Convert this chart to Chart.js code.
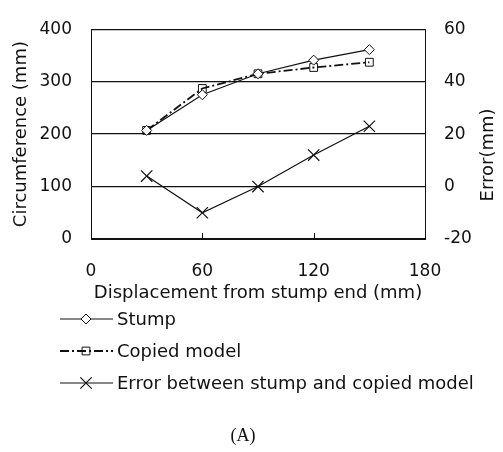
<!DOCTYPE html>
<html>
<head>
<meta charset="utf-8">
<script src="https://cdn.jsdelivr.net/npm/chart.js@4/dist/chart.umd.min.js"></script>
<style>
  html, body { margin: 0; padding: 0; background: #fff; }
  #wrap { position: relative; width: 503px; height: 452px; }
</style>
</head>
<body>
<div id="wrap"><canvas id="chart" width="503" height="452"></canvas></div>
<script>
// --- values ---
const displacement = [30, 60, 90, 120, 150];          // mm from stump end
const stump = [207, 275, 315, 341, 361];              // circumference (mm)
const copiedModel = [207, 287, 315, 327, 337];        // circumference (mm)
const errorValues = [4, -10, 0, 12, 23];              // error (mm), right axis
const xTicks = [0, 60, 120, 180];

const FONT = 'DejaVu Sans';
const INK = '#111';

const toPoints = ys => displacement.map((x, i) => ({ x: x, y: ys[i] }));

// legend drawn as line - marker - line, like the original
const legendPlugin = {
  id: 'lineLegend',
  afterDraw(chart) {
    const ctx = chart.ctx;
    const rows = [319, 351, 383];
    ctx.save();
    chart.data.datasets.forEach((ds, i) => {
      const y = rows[i];
      ctx.strokeStyle = ds.borderColor;
      ctx.lineWidth = ds.borderWidth;
      ctx.setLineDash(ds.borderDash || []);
      ctx.beginPath();
      ctx.moveTo(60, y);
      ctx.lineTo(113, y);
      ctx.stroke();
      ctx.setLineDash([]);
      ctx.lineWidth = ds.pointBorderWidth || 1;
      ctx.fillStyle = ds.pointBackgroundColor;
      Chart.helpers.drawPoint(ctx, {
        pointStyle: ds.pointStyle,
        radius: ds.pointRadius,
        borderWidth: ds.pointBorderWidth || 1,
        rotation: 0
      }, 86, y);
      ctx.fillStyle = INK;
      ctx.font = '18px "' + FONT + '"';
      ctx.textBaseline = 'middle';
      ctx.textAlign = 'left';
      ctx.fillText(ds.label, 117, y + 1);
    });

    // right axis title, reading bottom to top
    ctx.save();
    ctx.translate(488, 155);
    ctx.rotate(-Math.PI / 2);
    ctx.textAlign = 'center';
    ctx.textBaseline = 'middle';
    ctx.font = '18px "' + FONT + '"';
    ctx.fillText('Error(mm)', 0, 0);
    ctx.restore();

    // small inner tick marks on the x axis
    const xs = chart.scales.x;
    const bottom = chart.chartArea.bottom;
    ctx.strokeStyle = INK;
    ctx.lineWidth = 1;
    [60, 120].forEach(v => {
      const px = Math.round(xs.getPixelForValue(v)) + 0.5;
      ctx.beginPath();
      ctx.moveTo(px, bottom);
      ctx.lineTo(px, bottom - 6);
      ctx.stroke();
    });

    // panel label
    ctx.font = '18px "Liberation Serif"';
    ctx.textAlign = 'center';
    ctx.fillText('(A)', 243, 436);
    ctx.restore();
  }
};

new Chart(document.getElementById('chart'), {
  type: 'line',
  data: {
    datasets: [
      {
        label: 'Stump',
        data: toPoints(stump),
        yAxisID: 'y',
        borderColor: INK, borderWidth: 1.2,
        pointStyle: 'rectRot', pointRadius: 5,
        pointBackgroundColor: '#fff', pointBorderColor: INK, pointBorderWidth: 1
      },
      {
        label: 'Copied model',
        data: toPoints(copiedModel),
        yAxisID: 'y',
        borderColor: INK, borderWidth: 1.8, borderDash: [9, 3, 2, 3],
        pointStyle: 'rect', pointRadius: 5.5,
        pointBackgroundColor: 'rgba(255,255,255,0)', pointBorderColor: INK, pointBorderWidth: 1
      },
      {
        label: 'Error between stump and copied model',
        data: toPoints(errorValues),
        yAxisID: 'y2',
        borderColor: INK, borderWidth: 1.2,
        pointStyle: 'crossRot', pointRadius: 8,
        pointBackgroundColor: '#fff', pointBorderColor: INK, pointBorderWidth: 1.2
      }
    ]
  },
  options: {
    responsive: false,
    animation: false,
    devicePixelRatio: 1,
    layout: { padding: { top: 12, left: 0, right: 0, bottom: 147 } },
    plugins: { legend: { display: false }, tooltip: { enabled: false } },
    scales: {
      x: {
        type: 'linear', min: 0, max: 180,
        afterBuildTicks: s => { s.ticks = xTicks.map(v => ({ value: v })); },
        afterFit: s => { s.height = 66; },
        grid: { display: false, drawTicks: false },
        border: { display: true, color: INK, width: 1 },
        ticks: { padding: 22, color: INK, font: { family: FONT, size: 17 }, maxRotation: 0 },
        title: { display: true, text: 'Displacement from stump end (mm)', color: INK,
                 font: { family: FONT, size: 18 }, padding: { top: 0, bottom: 1 } }
      },
      y: {
        position: 'left', min: 0, max: 400,
        afterFit: s => { s.width = 91; },
        grid: { color: INK, lineWidth: 1.3, drawTicks: false },
        border: { display: true, color: INK, width: 1 },
        ticks: { stepSize: 100, padding: 19, color: INK, font: { family: FONT, size: 17 } },
        title: { display: true, text: 'Circumference (mm)', color: INK,
                 font: { family: FONT, size: 18 }, padding: { top: 11, bottom: 0 } }
      },
      y2: {
        position: 'right', min: -20, max: 60,
        afterFit: s => { s.width = 78; },
        grid: { display: false, drawTicks: false },
        border: { display: true, color: INK, width: 1 },
        ticks: { stepSize: 20, padding: 19, color: INK, font: { family: FONT, size: 17 } }
      }
    }
  },
  plugins: [legendPlugin]
});
</script>
</body>
</html>
